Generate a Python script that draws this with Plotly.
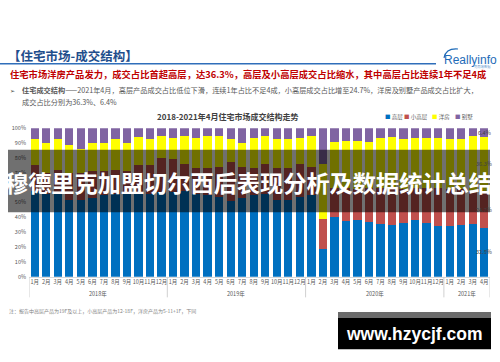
import plotly.graph_objects as go

# ---------------- data ----------------
months = ["1月", "2月", "3月", "4月", "5月", "6月", "7月", "8月", "9月", "10月", "11月", "12月"] * 3 + ["1月", "2月", "3月", "4月"]
years = ["2018年", "2019年", "2020年", "2021年"]
year_counts = [12, 12, 12, 4]

gaoceng = [58, 56, 57, 52, 52, 53, 55, 56, 56, 57, 56, 57,
           57, 58, 56, 55, 54, 51, 53, 55, 56, 52, 52, 54,
           55, 18.5, 40, 37.5, 38, 37, 35.5, 35, 36, 38, 36, 34,
           34, 35, 35.5, 32.8]
xiaogaoceng = [17, 14, 15, 18, 18, 18, 16, 16, 15, 18, 19, 23,
               22, 18, 17, 18, 20, 26, 21, 18, 20, 21, 21, 22,
               19, 20.5, 20, 22, 21, 23, 24, 25, 23, 22, 24, 26,
               25, 24, 22, 24.7]
yangfang = [17.5, 20, 20.5, 18.6, 16, 19, 19, 20.5, 19.3, 19, 18, 14.7,
            14.6, 18.5, 20.5, 21.5, 20.5, 15.5, 16, 20.5, 18.5, 19.5, 19.5, 17.5,
            20.5, 37, 31, 32, 32.5, 31, 34, 34, 33.5, 33.5, 33.5, 33.5,
            33.5, 34, 37, 36.3]
bieshu = [7.5, 10, 7.5, 11.4, 14, 10, 10, 7.5, 9.7, 6, 7, 5.3,
          6.4, 5.5, 6.5, 5.5, 5.5, 7.5, 10, 6.5, 5.5, 7.5, 7.5, 6.5,
          5.5, 24, 9, 8.5, 8.5, 9, 6.5, 6, 7.5, 6.5, 6.5, 6.5,
          7.5, 7, 5.5, 6.4]
series_names = ["高层", "小高层", "洋房", "别墅"]
series_colors = ["#0070C0", "#C0504D", "#FFFF00", "#8064A2"]
series_values = [gaoceng, xiaogaoceng, yangfang, bieshu]
y_ticks = list(range(0, 101, 10))
y_ticktext = [f"{v}%" for v in y_ticks]

W, H = 500, 362
def px(x):
    return x / W
def py(y):
    return 1 - y / H

CJK = "Noto Sans CJK SC"
x_idx = list(range(len(months)))

fig = go.Figure()
for name, color, vals in zip(series_names, series_colors, series_values):
    fig.add_trace(go.Bar(x=x_idx, y=vals, name=name, marker=dict(color=color, line=dict(width=0))))

fig.update_layout(
    width=W, height=H, margin=dict(l=0, r=0, t=0, b=0),
    paper_bgcolor="white", plot_bgcolor="white",
    barmode="stack", bargap=0.28, showlegend=False,
    font=dict(family=CJK, size=6, color="#595959"),
    xaxis=dict(domain=[px(29), px(490)], range=[-0.5, len(months) - 0.5],
               tickmode="array", tickvals=x_idx, ticktext=months, tickangle=0,
               tickfont=dict(size=5.5, color="#595959"), showgrid=False, zeroline=False,
               showline=True, linecolor="#d9d9d9", linewidth=1, ticks=""),
    yaxis=dict(domain=[py(279), py(127)], range=[0, 100], tickmode="array",
               tickvals=y_ticks, ticktext=y_ticktext, tickfont=dict(size=5.5, color="#595959"),
               showgrid=False, zeroline=False, showline=False, ticks="", ticklabelstandoff=2),
)

ann = []
shapes = []

# year group labels and separators
start = 0
bounds = [-0.5]
for yname, cnt in zip(years, year_counts):
    center = start + (cnt - 1) / 2
    ann.append(dict(x=center, y=py(297), xref="x", yref="paper", text=yname, showarrow=False,
                    font=dict(size=5.5, color="#595959"), xanchor="center", yanchor="middle"))
    start += cnt
    bounds.append(start - 0.5)
for b in bounds:
    shapes.append(dict(type="line", xref="x", yref="paper", x0=b, x1=b, y0=py(279), y1=py(300),
                       line=dict(color="#d0d0d0", width=1)))

# labels on the last bar (segment midpoints)
cum = 0
for vals in series_values:
    v = vals[-1]
    ann.append(dict(x=len(months) - 1, y=cum + v / 2, xref="x", yref="y", text=f"{v}%", showarrow=False,
                    font=dict(size=5.5, color="#404040"), xanchor="center", yanchor="middle"))
    cum += v

# chart title
ann.append(dict(x=px(227), y=py(115), xref="paper", yref="paper", text="<b>2018-2021年4月住宅市场成交结构走势</b>",
                showarrow=False, font=dict(size=8, color="#404040", family=CJK), xanchor="center", yanchor="middle"))

# legend (manual)
leg_x = [383, 402, 430, 453]
for lx, name, color in zip(leg_x, series_names, series_colors):
    ann.append(dict(x=px(lx), y=py(116), xref="paper", yref="paper",
                    text=f"<span style='color:{color}'>■</span> {name}", showarrow=False,
                    font=dict(size=5.5, color="#595959", family=CJK), xanchor="left", yanchor="middle"))

# header
ann.append(dict(x=px(6), y=py(53), xref="paper", yref="paper", text="<b>【住宅市场-成交结构】</b>", showarrow=False,
                font=dict(size=12.5, color="#1F4E8C", family=CJK), xanchor="left", yanchor="middle"))
shapes.append(dict(type="line", xref="paper", yref="paper", x0=0, x1=px(436), y0=py(61), y1=py(61),
                   line=dict(color="#2F6EBA", width=1.5)))
ann.append(dict(x=px(442), y=py(57), xref="paper", yref="paper", text="Reallyinfo", showarrow=False,
                font=dict(size=12, color="#1E6BB8", family="Liberation Sans"), xanchor="left", yanchor="middle"))
ann.append(dict(x=px(493), y=py(64.3), xref="paper", yref="paper", text="克而瑞数据", showarrow=False,
                font=dict(size=3.3, color="#6a9bd0", family=CJK), xanchor="right", yanchor="middle"))
shapes.append(dict(type="path", xref="paper", yref="paper",
                   path=f"M {px(444)} {py(55)} Q {px(446)} {py(45)} {px(458)} {py(46)}",
                   line=dict(color="#1E6BB8", width=1.2)))

ann.append(dict(x=px(8), y=py(72), xref="paper", yref="paper",
                text="<b>住宅市场洋房产品发力，成交占比首超高层，达36.3%，高层及小高层成交占比缩水，其中高层占比连续1年不足4成</b>",
                showarrow=False, font=dict(size=9.3, color="#C00000", family=CJK), xanchor="left", yanchor="middle"))
ann.append(dict(x=px(8), y=py(88), xref="paper", yref="paper", text="➢", showarrow=False,
                font=dict(size=6, color="#404040", family="DejaVu Sans"), xanchor="left", yanchor="middle"))
ann.append(dict(x=px(20), y=py(88), xref="paper", yref="paper",
                text="<b>住宅成交结构</b>——2021年4月，高层产品成交占比低位下滑，连续1年占比不足4成，小高层成交占比增至24.7%，洋房及别墅产品成交占比扩大，",
                showarrow=False, font=dict(size=7.2, color="#595959", family=CJK), xanchor="left", yanchor="middle"))
ann.append(dict(x=px(20), y=py(100), xref="paper", yref="paper", text="成交占比分别为36.3%、6.4%",
                showarrow=False, font=dict(size=7.2, color="#595959", family=CJK), xanchor="left", yanchor="middle"))

# note
ann.append(dict(x=px(7), y=py(314), xref="paper", yref="paper",
                text="注：报告中高层产品为19F及以上，小高层产品为12-18F，洋房产品为5-11+1F，下同",
                showarrow=False, font=dict(size=5, color="#7f7f7f", family=CJK), xanchor="left", yanchor="middle"))

# banner overlay
shapes.append(dict(type="rect", xref="paper", yref="paper", x0=px(8), x1=px(490), y0=py(213), y1=py(149),
                   fillcolor="rgba(0,0,0,0.56)", line=dict(width=0), layer="above"))
ann.append(dict(x=px(248.5), y=py(182), xref="paper", yref="paper",
                text="<b>穆德里克加盟切尔西后表现分析及数据统计总结</b>", showarrow=False,
                font=dict(size=23.2, color="white", family=CJK), xanchor="center", yanchor="middle"))

# watermark
shapes.append(dict(type="rect", xref="paper", yref="paper", x0=px(338), x1=px(491), y0=py(353), y1=py(315),
                   fillcolor="black", line=dict(width=0), layer="above"))
shapes.append(dict(type="rect", xref="paper", yref="paper", x0=px(338), x1=px(491), y0=py(321), y1=py(315),
                   fillcolor="#6b6b6b", line=dict(width=0), layer="above"))
ann.append(dict(x=px(414.5), y=py(337), xref="paper", yref="paper", text="<b>www.hzycjf.com</b>", showarrow=False,
                font=dict(size=17.5, color="white", family="Liberation Sans"), xanchor="center", yanchor="middle"))

fig.update_layout(annotations=ann, shapes=shapes)

fig.write_html("out.html", config={"displayModeBar": False},
               post_script="document.body.style.margin='0';")
